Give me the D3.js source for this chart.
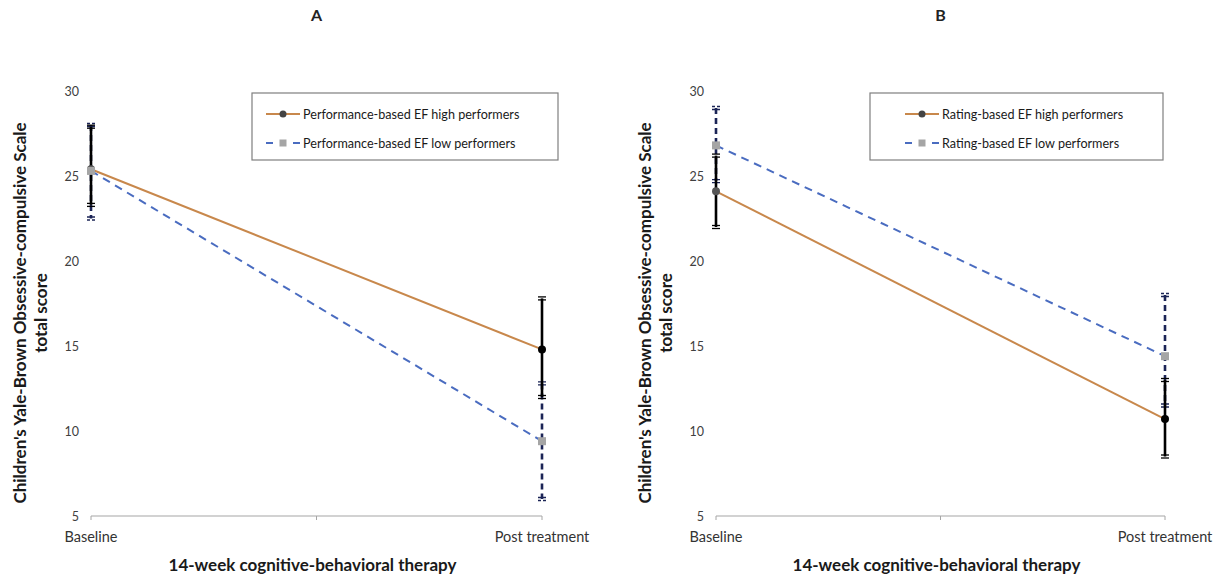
<!DOCTYPE html>
<html><head><meta charset="utf-8">
<script src="https://cdn.jsdelivr.net/npm/d3@7"></script>
<style>body{margin:0;background:#fff}svg{display:block}</style>
</head><body>
<svg id="c" width="1218" height="577"></svg>
<script>
const categories = ["Baseline", "Post treatment"];
const yTicks = [5, 10, 15, 20, 25, 30];
const panelTitles = ["A", "B"];
const legendA = ["Performance-based EF high performers", "Performance-based EF low performers"];
const legendB = ["Rating-based EF high performers", "Rating-based EF low performers"];
// Panel A
const aHigh = [25.4, 14.8];
const aHighUp = [27.9, 17.8];
const aHighLo = [23.3, 12.0];
const aLow = [25.3, 9.4];
const aLowUp = [28.0, 12.8];
const aLowLo = [22.5, 6.0];
// Panel B
const bHigh = [24.1, 10.7];
const bHighUp = [26.2, 13.0];
const bHighLo = [22.0, 8.5];
const bLow = [26.8, 14.4];
const bLowUp = [29.0, 18.0];
const bLowLo = [24.7, 11.5];

const yTitle1 = "Children's  Yale-Brown Obsessive-compulsive Scale";
const yTitle2 = "total score";
const xTitle = "14-week cognitive-behavioral therapy";

const svg = d3.select("#c");
const FONT = "Lato, 'Open Sans', sans-serif";
const ORANGE = "#c8884c", BLUE = "#4a6cc0", NAVY = "#1b2456";

function panel(cfg) {
  const g = svg.append("g");
  const x = d3.scalePoint().domain(categories).range([cfg.x0, cfg.x1]);
  const y = d3.scaleLinear().domain([5, 30]).range([516, 91]);

  // y tick labels
  g.selectAll(".yt").data(yTicks).enter().append("text")
    .attr("x", cfg.x0 - 12).attr("y", d => y(d) + 4.5)
    .attr("text-anchor", "end").attr("font-family", FONT).attr("font-size", 12.5).attr("fill", "#404040")
    .text(d => d);

  // x axis line
  g.append("line").attr("x1", cfg.x0).attr("x2", cfg.x1).attr("y1", y(5)).attr("y2", y(5))
    .attr("stroke", "#a6a6a6").attr("stroke-width", 1.2);
  const mid = (cfg.x0 + cfg.x1) / 2;
  [cfg.x0, mid, cfg.x1].forEach(t => g.append("line").attr("x1", t).attr("x2", t)
    .attr("y1", y(5)).attr("y2", y(5) + 4).attr("stroke", "#a6a6a6").attr("stroke-width", 1));

  g.selectAll(".xt").data(categories).enter().append("text")
    .attr("x", d => x(d)).attr("y", 542)
    .attr("text-anchor", "middle").attr("font-family", FONT).attr("font-size", 14.5).attr("fill", "#333")
    .text(d => d);

  // titles
  g.append("text").attr("x", mid).attr("y", 21).attr("text-anchor", "middle")
    .attr("font-family", FONT).attr("font-weight", "bold").attr("font-size", 16).attr("fill", "#222")
    .text(cfg.title);
  g.append("text").attr("x", mid - 4).attr("y", 571).attr("text-anchor", "middle")
    .attr("font-family", FONT).attr("font-weight", "bold").attr("font-size", 17).attr("fill", "#1a1a1a")
    .text(xTitle);
  const yc = 313;
  g.append("text").attr("transform", `translate(${cfg.x0 - 65},${yc}) rotate(-90)`)
    .attr("text-anchor", "middle").attr("font-family", FONT).attr("font-weight", "bold").attr("font-size", 17).attr("fill", "#1a1a1a")
    .text(yTitle1);
  g.append("text").attr("transform", `translate(${cfg.x0 - 44},${yc}) rotate(-90)`)
    .attr("text-anchor", "middle").attr("font-family", FONT).attr("font-weight", "bold").attr("font-size", 17).attr("fill", "#1a1a1a")
    .text(yTitle2);

  const line = d3.line().x((d, i) => x(categories[i])).y(d => y(d));
  // lines
  g.append("path").datum(cfg.high).attr("d", line).attr("fill", "none").attr("stroke", ORANGE).attr("stroke-width", 2);
  g.append("path").datum(cfg.low).attr("d", line).attr("fill", "none").attr("stroke", BLUE).attr("stroke-width", 2)
    .attr("stroke-dasharray", "8,6");

  // error bars
  function errBars(up, lo, color, dash) {
    categories.forEach((c, i) => {
      const xx = x(c);
      g.append("line").attr("x1", xx).attr("x2", xx).attr("y1", y(up[i])).attr("y2", y(lo[i]))
        .attr("stroke", color).attr("stroke-width", 2.6).attr("stroke-dasharray", dash);
      [up[i], lo[i]].forEach(v => {
        [-1.5, 1.5].forEach(o => g.append("line").attr("x1", xx - 4).attr("x2", xx + 4)
          .attr("y1", y(v) + o).attr("y2", y(v) + o).attr("stroke", color).attr("stroke-width", 1.3)
          .attr("stroke-dasharray", dash ? "3,2" : null));
      });
    });
  }
  errBars(cfg.lowUp, cfg.lowLo, NAVY, "6,4");
  errBars(cfg.highUp, cfg.highLo, "#000", null);

  // markers
  g.selectAll(".mh").data(cfg.high).enter().append("circle")
    .attr("cx", (d, i) => x(categories[i])).attr("cy", d => y(d)).attr("r", 4)
    .attr("fill", (d, i) => i === 0 ? "#555" : "#000");
  g.selectAll(".ml").data(cfg.low).enter().append("rect")
    .attr("x", (d, i) => x(categories[i]) - 4).attr("y", d => y(d) - 4).attr("width", 8).attr("height", 8)
    .attr("fill", "#a5a5a5");

  // legend
  const L = cfg.legend;
  const lg = g.append("g");
  lg.append("rect").attr("x", L.x).attr("y", 93).attr("width", L.w).attr("height", 67)
    .attr("fill", "#fff").attr("stroke", "#7f7f7f").attr("stroke-width", 1.2);
  const rows = [114, 143];
  lg.append("line").attr("x1", L.sx).attr("x2", L.sx + 34).attr("y1", rows[0]).attr("y2", rows[0])
    .attr("stroke", ORANGE).attr("stroke-width", 2);
  lg.append("circle").attr("cx", L.sx + 17).attr("cy", rows[0]).attr("r", 3.5).attr("fill", "#444");
  lg.append("line").attr("x1", L.sx).attr("x2", L.sx + 34).attr("y1", rows[1]).attr("y2", rows[1])
    .attr("stroke", BLUE).attr("stroke-width", 2).attr("stroke-dasharray", "7,20");
  lg.append("rect").attr("x", L.sx + 13.5).attr("y", rows[1] - 3.5).attr("width", 7).attr("height", 7).attr("fill", "#a5a5a5");
  cfg.labels.forEach((t, i) => lg.append("text").attr("x", L.sx + 37).attr("y", rows[i] + 4.5)
    .attr("font-family", FONT).attr("font-size", 12.6).attr("fill", "#1a1a1a").text(t));
}

panel({x0: 91, x1: 542, title: panelTitles[0], high: aHigh, highUp: aHighUp, highLo: aHighLo,
  low: aLow, lowUp: aLowUp, lowLo: aLowLo, labels: legendA, legend: {x: 252, w: 306, sx: 266}});
panel({x0: 716, x1: 1165, title: panelTitles[1], high: bHigh, highUp: bHighUp, highLo: bHighLo,
  low: bLow, lowUp: bLowUp, lowLo: bLowLo, labels: legendB, legend: {x: 870, w: 293, sx: 905}});
</script>
</body></html>
